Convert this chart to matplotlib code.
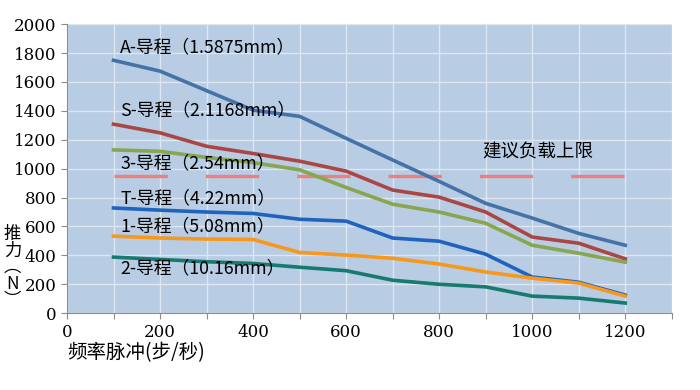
import matplotlib
matplotlib.use("Agg")
import matplotlib.pyplot as plt

# digits of the axes in a serif face, CJK glyphs fall back to Noto
plt.rcParams['font.family'] = ['DejaVu Serif', 'Noto Sans CJK SC', 'DejaVu Sans']
cjk = ['Noto Sans CJK SC', 'DejaVu Sans']

# step pulse frequency
freq = [100, 200, 300, 400, 500, 600, 700, 800, 900, 1000, 1100, 1200]

# thrust (N) per lead
thrust_A = [1750, 1675, 1540, 1405, 1362, 1210, 1060, 912, 760, 658, 552, 470]
thrust_S = [1308, 1248, 1155, 1105, 1052, 983, 852, 803, 700, 527, 484, 376]
thrust_3 = [1130, 1120, 1078, 1042, 992, 870, 754, 700, 622, 470, 415, 353]
thrust_T = [728, 713, 700, 690, 650, 637, 520, 498, 408, 250, 214, 125]
thrust_1 = [533, 520, 513, 510, 420, 402, 380, 340, 285, 242, 208, 118]
thrust_2 = [388, 372, 356, 344, 318, 294, 228, 200, 182, 118, 104, 70]

series = [thrust_A, thrust_S, thrust_3, thrust_T, thrust_1, thrust_2]
colors = ['#4572A7', '#AA4643', '#89A54E', '#1F63BE', '#F7981D', '#177A6F']
labels = ['A-导程（1.5875mm）', 'S-导程（2.1168mm）', '3-导程（2.54mm）',
          'T-导程（4.22mm）', '1-导程（5.08mm）', '2-导程（10.16mm）']
label_y = [1841, 1405, 1038, 796, 602, 311]

limit_value = 950
limit_x = [100, 1200]

xticks = list(range(0, 1301, 100))
xtick_labels = [str(v) if v % 200 == 0 else '' for v in xticks]
yticks = list(range(0, 2001, 200))

fig = plt.figure(figsize=(7, 3.9), dpi=100)
ax = fig.add_axes([0.0957, 0.197, 0.864, 0.741])
ax.set_facecolor('#B8CCE4')

ax.set_xlim(0, 1300)
ax.set_ylim(0, 2000)
ax.set_xticks(xticks, xtick_labels)
ax.set_yticks(yticks)
ax.grid(True, color='#DDE6F1', linewidth=1.0)
ax.set_axisbelow(True)

for s in ['top', 'right']:
    ax.spines[s].set_visible(False)
for s in ['left', 'bottom']:
    ax.spines[s].set_color('#8C8C8C')
ax.tick_params(colors='#8C8C8C', length=4, labelcolor='black', labelsize=12)

# recommended load limit
ax.plot(limit_x, [limit_value, limit_value], color='#EE7F7F', linewidth=2.4,
        dashes=(16, 11.4), solid_capstyle='butt', dash_capstyle='butt')
ax.text(893, 1114, '建议负载上限', fontsize=13.3, va='center', ha='left', family=cjk)

for vals, col, lab, ly in zip(series, colors, labels, label_y):
    ax.plot(freq, vals, color=col, linewidth=2.6)
    ax.text(114, ly, lab, fontsize=12.8, va='center', ha='left', family=cjk)

fig.text(0.096, 0.097, '频率脉冲(步/秒)', fontsize=14, va='center', ha='left', family=cjk)
fig.text(0.018, 0.315, '推\n力\n︵\nN\n︶', fontsize=12.5, va='center', ha='center',
         linespacing=0.9, family=cjk)

fig.savefig('out.png', dpi=100)
